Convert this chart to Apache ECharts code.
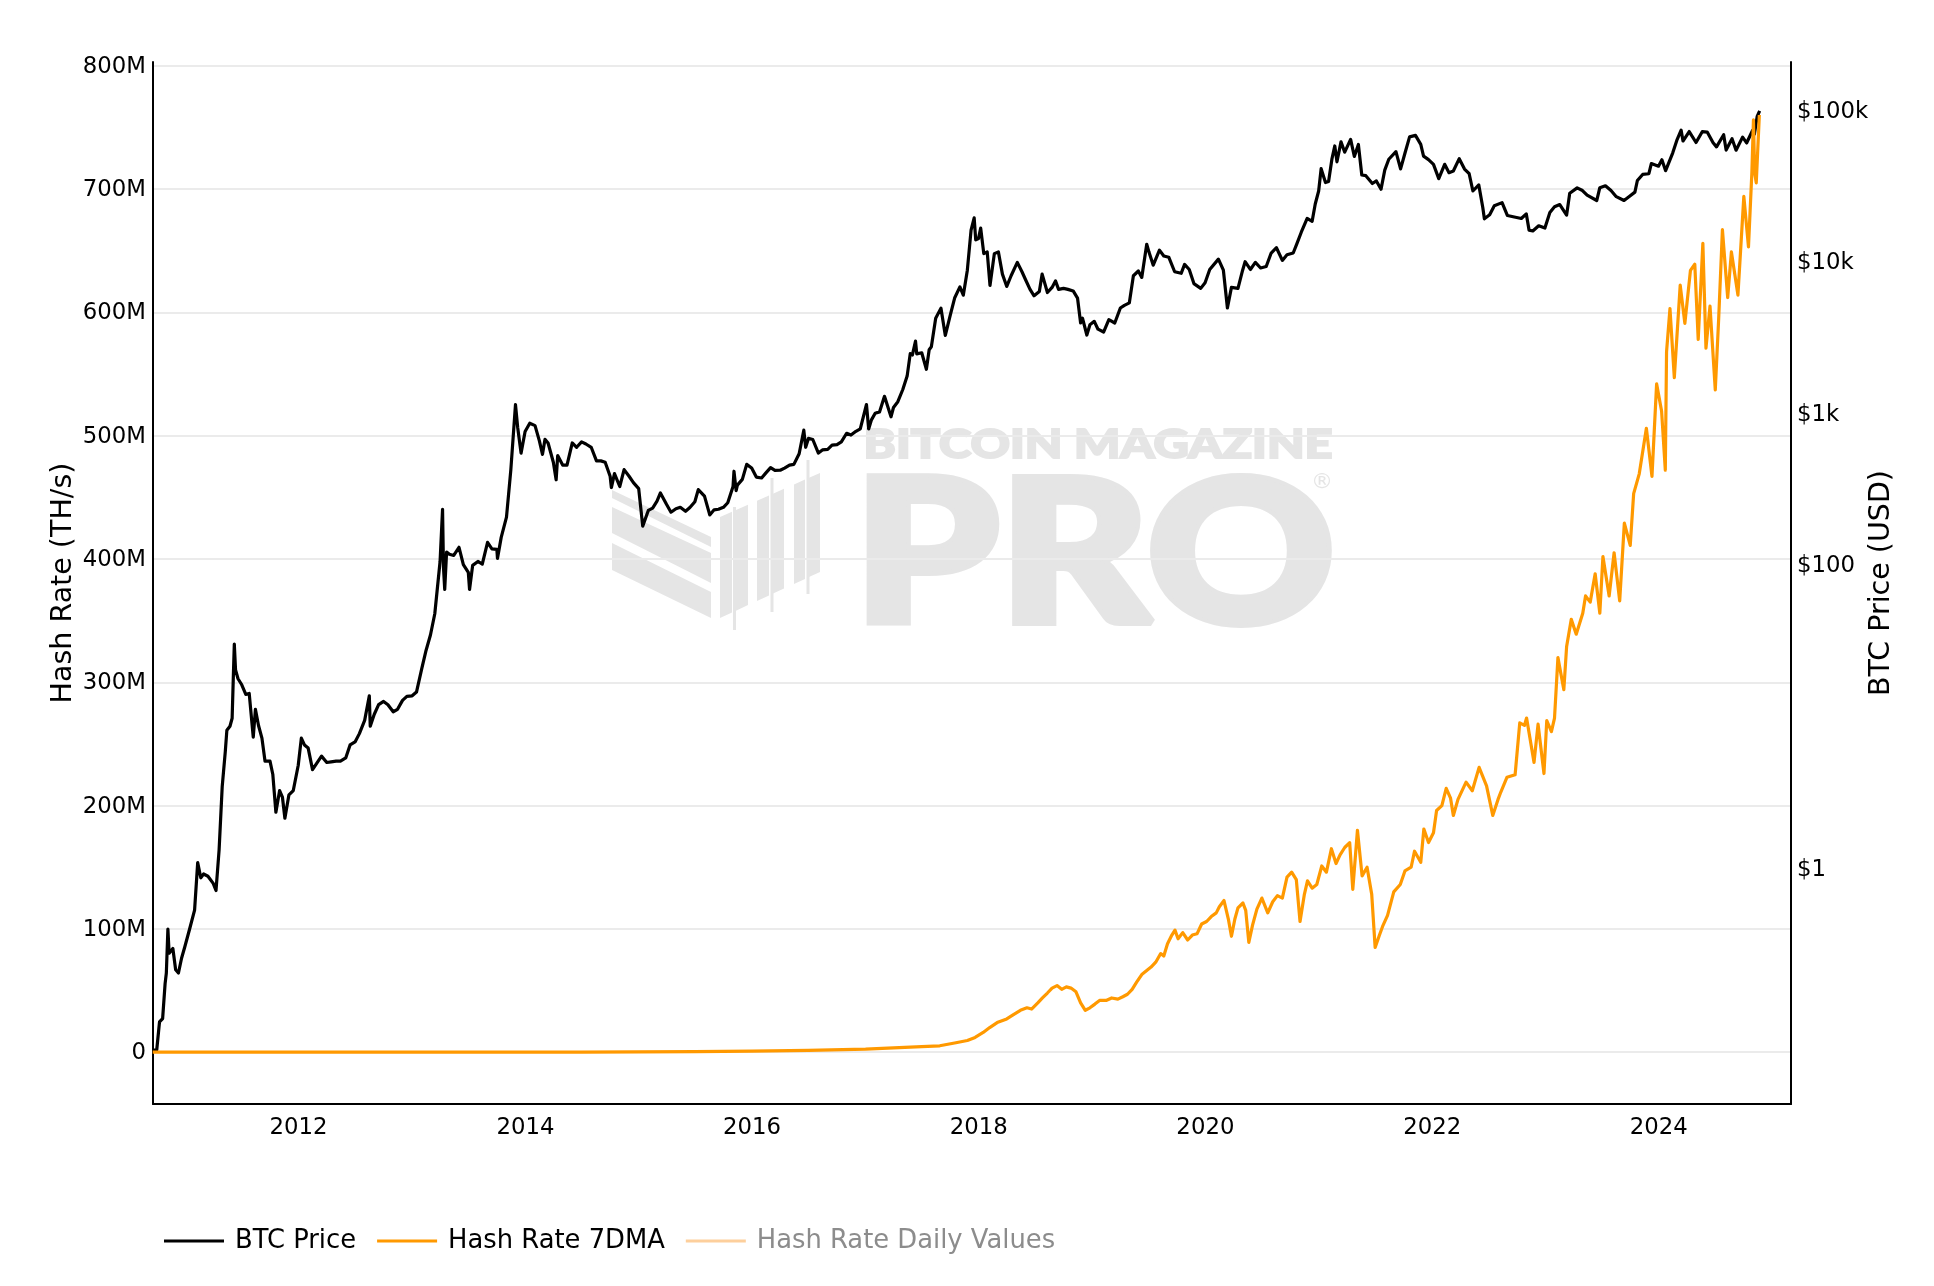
<!DOCTYPE html>
<html>
<head>
<meta charset="utf-8">
<title>Hash Rate vs BTC Price</title>
<script src="https://cdn.jsdelivr.net/npm/echarts@6/dist/echarts.min.js"></script>
<style>
html, body { margin: 0; padding: 0; background: #fff; }
#chart { width: 1934px; height: 1286px; }
</style>
</head>
<body>
<div id="chart"></div>
<script>
// BTC price (USD)
var priceDates = [
  '2010-09-18','2010-10-01','2010-10-10','2010-10-20','2010-10-28','2010-11-01','2010-11-06','2010-11-10','2010-11-15','2010-11-22','2010-12-01','2010-12-10','2010-12-20','2010-12-31',
  '2011-01-15','2011-01-31','2011-02-10','2011-02-20','2011-03-01','2011-03-15','2011-04-01','2011-04-10','2011-04-20','2011-04-30','2011-05-10','2011-05-15','2011-05-25','2011-06-01','2011-06-05','2011-06-08','2011-06-12','2011-06-20','2011-07-01','2011-07-15','2011-07-26','2011-08-08','2011-08-15','2011-08-25','2011-09-05','2011-09-15','2011-10-01','2011-10-10','2011-10-20','2011-11-01','2011-11-10','2011-11-18','2011-12-01','2011-12-15','2011-12-31',
  '2012-01-10','2012-01-20','2012-02-01','2012-02-15','2012-03-01','2012-03-15','2012-04-01','2012-04-15','2012-05-01','2012-05-15','2012-06-01','2012-06-15','2012-07-01','2012-07-15','2012-08-01','2012-08-16','2012-08-19','2012-09-01','2012-09-15','2012-10-01','2012-10-15','2012-11-01','2012-11-15','2012-12-01','2012-12-15',
  '2013-01-01','2013-01-15','2013-02-01','2013-02-15','2013-03-01','2013-03-15','2013-04-01','2013-04-09','2013-04-12','2013-04-16','2013-04-22','2013-05-01','2013-05-15','2013-06-01','2013-06-15','2013-07-01','2013-07-05','2013-07-15','2013-08-01','2013-08-15','2013-09-01','2013-09-15','2013-10-01','2013-10-03','2013-10-15','2013-11-01','2013-11-15','2013-11-30','2013-12-07','2013-12-18','2013-12-31',
  '2014-01-15','2014-02-01','2014-02-15','2014-02-25','2014-03-05','2014-03-15','2014-04-01','2014-04-10','2014-04-15','2014-05-01','2014-05-15','2014-06-01','2014-06-15','2014-07-01','2014-07-15','2014-08-01','2014-08-18','2014-09-01','2014-09-15','2014-10-01','2014-10-05','2014-10-15','2014-11-01','2014-11-15','2014-12-01','2014-12-15',
  '2015-01-01','2015-01-14','2015-02-01','2015-02-15','2015-03-01','2015-03-12','2015-04-01','2015-04-15','2015-05-01','2015-05-15','2015-06-01','2015-06-15','2015-07-01','2015-07-12','2015-08-01','2015-08-18','2015-09-01','2015-09-15','2015-10-01','2015-10-15','2015-11-01','2015-11-04','2015-11-11','2015-11-15','2015-12-01','2015-12-15','2015-12-31',
  '2016-01-15','2016-02-01','2016-02-15','2016-03-01','2016-03-15','2016-04-01','2016-04-15','2016-05-01','2016-05-15','2016-06-01','2016-06-16','2016-06-22','2016-07-01','2016-07-15','2016-08-02','2016-08-15','2016-09-01','2016-09-15','2016-10-01','2016-10-15','2016-11-01','2016-11-15','2016-12-01','2016-12-15',
  '2017-01-04','2017-01-11','2017-01-20','2017-02-01','2017-02-15','2017-03-03','2017-03-24','2017-04-01','2017-04-15','2017-05-01','2017-05-15','2017-05-25','2017-06-01','2017-06-11','2017-06-15','2017-07-01','2017-07-16','2017-07-25','2017-08-01','2017-08-15','2017-09-01','2017-09-15','2017-10-01','2017-10-15','2017-11-01','2017-11-12','2017-11-25','2017-12-07','2017-12-17','2017-12-22','2017-12-31',
  '2018-01-07','2018-01-17','2018-01-28','2018-02-06','2018-02-20','2018-03-05','2018-03-18','2018-04-01','2018-04-15','2018-05-05','2018-05-20','2018-06-01','2018-06-15','2018-06-28','2018-07-15','2018-07-24','2018-08-10','2018-08-25','2018-09-05','2018-09-15','2018-10-01','2018-10-15','2018-11-01','2018-11-15','2018-11-25','2018-12-01','2018-12-15','2018-12-25',
  '2019-01-08','2019-01-20','2019-02-07','2019-02-24','2019-03-15','2019-04-02','2019-04-15','2019-05-01','2019-05-14','2019-05-30','2019-06-10','2019-06-26','2019-07-03','2019-07-17','2019-08-06','2019-08-20','2019-09-05','2019-09-24','2019-10-15','2019-10-26','2019-11-10','2019-11-25','2019-12-17','2019-12-31',
  '2020-01-15','2020-02-12','2020-02-28','2020-03-12','2020-03-25','2020-04-15','2020-04-30','2020-05-08','2020-05-25','2020-06-10','2020-06-27','2020-07-15','2020-07-31','2020-08-17','2020-09-05','2020-09-20','2020-10-10','2020-10-21','2020-11-05','2020-11-24','2020-12-10','2020-12-20','2020-12-31',
  '2021-01-08','2021-01-22','2021-02-01','2021-02-12','2021-02-21','2021-02-28','2021-03-13','2021-03-25','2021-04-13','2021-04-25','2021-05-08','2021-05-19','2021-06-01','2021-06-22','2021-07-05','2021-07-20','2021-08-01','2021-08-14','2021-09-06','2021-09-21','2021-10-05','2021-10-20','2021-11-08','2021-11-25','2021-12-04','2021-12-20',
  '2022-01-05','2022-01-22','2022-02-10','2022-02-24','2022-03-10','2022-03-29','2022-04-15','2022-04-30','2022-05-12','2022-05-31','2022-06-13','2022-06-18','2022-07-05','2022-07-20','2022-08-14','2022-08-31','2022-09-15','2022-09-30','2022-10-15','2022-10-31','2022-11-09','2022-11-21','2022-12-10','2022-12-30',
  '2023-01-15','2023-01-30','2023-02-16','2023-03-10','2023-03-20','2023-04-13','2023-04-30','2023-05-15','2023-06-15','2023-06-25','2023-07-13','2023-07-31','2023-08-17','2023-09-11','2023-09-30','2023-10-16','2023-10-24','2023-11-10','2023-11-30','2023-12-08','2023-12-31',
  '2024-01-11','2024-01-23','2024-02-15','2024-02-28','2024-03-13','2024-03-19','2024-04-08','2024-04-30','2024-05-20','2024-06-05','2024-06-24','2024-07-05','2024-07-28','2024-08-05','2024-08-24','2024-09-06','2024-09-27','2024-10-10','2024-10-29','2024-11-04','2024-11-13','2024-11-21'
];
var priceValues = [
  0.062,0.062,0.095,0.10,0.17,0.20,0.39,0.27,0.27,0.29,0.21,0.20,0.25,0.30,
  0.39,0.52,1.07,0.85,0.90,0.87,0.78,0.70,1.30,3.4,5.8,8.0,8.5,9.6,18.5,29.6,20,17.5,16.1,13.8,14,7.2,11,8.6,7.1,5.0,5.0,4.1,2.3,3.2,2.9,2.1,3.0,3.2,4.7,
  7.1,6.4,6.1,4.4,4.9,5.4,4.9,4.95,5.0,5.0,5.25,6.4,6.7,7.6,9.3,13.5,8.5,10.2,11.8,12.4,11.8,10.6,11.0,12.6,13.4,
  13.5,14.3,20.4,27,34,47,104,230,95,68,120,116,114,129,99,88,68,98,104,100,139,126,125,109,150,204,418,1127,800,540,750,
  850,820,650,530,665,630,470,360,520,450,450,630,590,640,620,590,480,480,470,380,320,395,325,420,380,345,
  315,178,226,234,260,295,247,220,232,237,223,236,258,310,281,211,228,230,237,254,325,410,305,332,362,455,430,
  375,370,400,433,415,416,430,450,455,535,765,590,675,664,540,567,572,609,614,640,730,710,752,780,
  1130,780,895,990,1010,1280,937,1080,1180,1420,1740,2450,2400,2960,2440,2480,1930,2600,2720,4200,4890,3230,4400,5700,6750,5950,8700,16000,19300,13800,14100,
  16500,11200,11500,6900,11200,11500,8200,6800,8000,9800,8500,7500,6500,5900,6300,8200,6200,6700,7400,6500,6600,6500,6350,5700,3900,4200,3250,3800,
  4000,3550,3400,4100,3900,4900,5100,5300,8000,8600,7800,12900,11500,9400,11800,10800,10600,8500,8300,9500,8800,7100,6600,7200,
  8800,10300,8700,4900,6700,6600,8700,9900,8800,9800,9000,9200,11300,12250,10100,11000,11300,12900,15500,19100,18300,23800,29000,
  40700,33000,33500,47500,57500,45200,61200,52300,63500,49000,58800,37000,36600,32500,33800,29800,39800,47000,52700,40600,51500,66000,67500,58900,49300,46700,
  43500,35000,43500,38300,39300,47400,40500,37700,29000,31800,22500,19000,20200,23200,24300,20000,19700,19400,19100,20500,16000,15800,17100,16500,
  20900,22800,23600,20100,28000,30400,29200,27200,25100,30500,31400,29200,26600,25100,26900,28500,34000,37300,37700,44000,42300,
  46600,39500,51800,62500,73100,62000,71600,60600,71400,71000,60300,56700,68200,54000,64200,53900,65800,60200,72700,68800,90000,98000
];

// Hash rate 7DMA, in millions of TH/s
var hashDates = [
  '2010-09-18','2011-06-01','2012-06-01','2013-06-01','2014-01-01','2014-07-01','2015-01-01','2015-07-01','2016-01-01','2016-07-01',
  '2017-01-01','2017-04-01','2017-07-01','2017-08-28','2017-10-15','2017-11-25','2017-12-20',
  '2018-01-15','2018-02-05','2018-03-01','2018-04-01','2018-04-20','2018-05-15','2018-06-05','2018-06-20','2018-07-10','2018-07-25','2018-08-10','2018-08-25','2018-09-10','2018-09-25','2018-10-10','2018-10-25','2018-11-10','2018-11-25','2018-12-10','2018-12-25',
  '2019-01-10','2019-01-25','2019-02-15','2019-03-05','2019-03-25','2019-04-10','2019-04-25','2019-05-10','2019-05-25','2019-06-10','2019-06-25','2019-07-10','2019-07-25','2019-08-10','2019-08-20','2019-09-01','2019-09-15','2019-09-25','2019-10-05','2019-10-20','2019-11-05','2019-11-20','2019-12-05','2019-12-20',
  '2020-01-05','2020-01-20','2020-02-05','2020-02-15','2020-03-01','2020-03-15','2020-03-25','2020-04-05','2020-04-15','2020-05-01','2020-05-10','2020-05-20','2020-06-01','2020-06-15','2020-07-01','2020-07-20','2020-08-05','2020-08-20','2020-09-05','2020-09-20','2020-10-05','2020-10-20','2020-11-01','2020-11-15','2020-11-25','2020-12-10','2020-12-25',
  '2021-01-10','2021-01-25','2021-02-10','2021-02-25','2021-03-10','2021-03-25','2021-04-10','2021-04-20','2021-05-05','2021-05-20','2021-06-05','2021-06-20','2021-07-01','2021-07-15','2021-07-25','2021-08-10','2021-08-30','2021-09-20','2021-10-05','2021-10-25','2021-11-05','2021-11-25','2021-12-05','2021-12-20',
  '2022-01-05','2022-01-15','2022-02-01','2022-02-15','2022-03-01','2022-03-10','2022-03-25','2022-04-20','2022-05-10','2022-06-01','2022-06-25','2022-07-15','2022-08-01','2022-08-10','2022-08-30','2022-09-25','2022-10-10','2022-10-25','2022-11-01','2022-11-25','2022-12-08','2022-12-27',
  '2023-01-05','2023-01-20','2023-01-30','2023-02-10','2023-03-01','2023-03-10','2023-03-25','2023-04-10','2023-05-01','2023-05-10','2023-05-25','2023-06-10','2023-06-25','2023-07-05','2023-07-25','2023-08-10','2023-08-28','2023-09-12','2023-10-01','2023-10-12','2023-10-30','2023-11-22','2023-12-10','2023-12-25',
  '2024-01-10','2024-01-22','2024-01-26','2024-02-06','2024-02-20','2024-03-10','2024-03-25','2024-04-12','2024-04-26','2024-05-07','2024-05-22','2024-06-01','2024-06-14','2024-07-01','2024-07-12','2024-07-24','2024-08-10','2024-08-22','2024-09-12','2024-10-01','2024-10-16','2024-10-27','2024-11-01','2024-11-05','2024-11-10','2024-11-20'
];
var hashValues = [
  0,0.00001,0.00002,0.0001,0.01,0.12,0.3,0.4,0.8,1.5,
  2.5,3.5,4.5,5.2,7.5,9.5,12,
  16,20,24,27,30,34,36,35,40,44,48,52,54,51,53,52,49,40,34,36,
  39,42,42,44,43,45,47,51,57,63,66,69,73,80,78,88,95,99,92,97,91,95,96,104,
  106,110,113,118,123,108,94,108,117,121,115,89,103,116,125,113,122,127,125,142,146,140,106,128,139,133,136,
  151,146,165,153,160,166,170,132,180,143,150,128,85,95,102,111,130,136,147,150,163,154,181,170,
  178,196,200,214,206,192,205,219,212,231,216,192,205,211,223,225,267,265,271,235,266,226,
  269,260,271,320,294,329,351,339,356,370,365,388,356,402,370,405,366,429,411,453,469,506,467,542,
  520,472,568,603,547,622,591,634,639,578,656,571,605,537,595,667,612,649,614,694,653,714,756,713,705,760
];

var hashTickValues = [0, 100, 200, 300, 400, 500, 600, 700, 800];
var priceTickValues = [1, 100, 1000, 10000, 100000];
var priceTickLabels = ['$1', '$100', '$1k', '$10k', '$100k'];
var yearTicks = [2012, 2014, 2016, 2018, 2020, 2022, 2024];

var FONT = 'DejaVu Sans';
var MARK = '#e5e5e5';

function toTime(d) {
  var p = d.split('-');
  return new Date(+p[0], +p[1] - 1, +p[2]).getTime();
}

// watermark text stretched to a pixel box [left, capTop, right, baseline];
// grow = extra stroke to make the letters heavier
function fitText(str, box, grow) {
  var b = [box[0] + grow / 2, box[1] + grow / 2, box[2] - grow / 2, box[3] - grow / 2];
  var ctx = document.createElement('canvas').getContext('2d');
  ctx.font = '900 100px Lato';
  ctx.textBaseline = 'middle';
  var m = ctx.measureText(str);
  var k = (b[3] - b[1]) / (m.actualBoundingBoxAscent + m.actualBoundingBoxDescent);
  var sx = (b[2] - b[0]) / ((m.actualBoundingBoxLeft + m.actualBoundingBoxRight) * k);
  return {
    type: 'text', z: -10, silent: true,
    x: b[0] + m.actualBoundingBoxLeft * k * sx,
    y: b[1] + m.actualBoundingBoxAscent * k,
    scaleX: sx,
    style: {
      text: str, font: '900 ' + (100 * k) + 'px Lato', fill: MARK,
      stroke: MARK, lineWidth: grow, lineJoin: 'miter',
      align: 'left', verticalAlign: 'middle', textAlign: 'left', textVerticalAlign: 'middle'
    }
  };
}

function logoParts() {
  var parts = [];
  var bands = [[490, 498, 537, 547], [507, 533, 553, 583], [543, 570, 592, 618]];
  bands.forEach(function (b) {
    parts.push({ type: 'polygon', z: -10, silent: true, shape: { points: [[612, b[0]], [711, b[2]], [711, b[3]], [612, b[1]]] }, style: { fill: MARK } });
  });
  var bars = [[720, 732], [736, 748], [757, 769], [773, 784], [794, 805], [809, 820]];
  var top = function (x) { return 517 - (x - 720) * 0.44; };
  var bot = function (x) { return 618 - (x - 720) * 0.46; };
  bars.forEach(function (b) {
    parts.push({ type: 'polygon', z: -10, silent: true, shape: { points: [[b[0], top(b[0])], [b[1], top(b[1])], [b[1], bot(b[1])], [b[0], bot(b[0])]] }, style: { fill: MARK } });
  });
  [[733, 507, 630], [770.5, 478, 612], [806.5, 460, 594]].forEach(function (s) {
    parts.push({ type: 'rect', z: -10, silent: true, shape: { x: s[0], y: s[1], width: 3, height: s[2] - s[1] }, style: { fill: MARK } });
  });
  return parts;
}

var chart = echarts.init(document.getElementById('chart'));

var option = {
  animation: false,
  backgroundColor: '#fff',
  textStyle: { fontFamily: FONT },
  graphic: [
    fitText('BITCOIN MAGAZINE', [866, 427, 1332, 459], 2),
    fitText('PRO', [866, 473, 1332, 628], 8),
    { type: 'text', z: -10, silent: true, x: 1322, y: 482, style: { text: '\u00ae', font: '22px ' + FONT, fill: MARK, align: 'center', verticalAlign: 'middle' } }
  ].concat(logoParts()),
  grid: { left: 153, right: 143, top: 62, bottom: 182 },
  legend: {
    left: 164,
    top: 1228,
    padding: 0,
    icon: 'rect',
    itemWidth: 60,
    itemHeight: 3,
    itemGap: 21,
    itemStyle: { borderWidth: 0 },
    textStyle: { fontFamily: FONT, fontSize: 25.8, color: '#000', padding: [0, 0, 0, 6] },
    data: [
      'BTC Price',
      'Hash Rate 7DMA',
      { name: 'Hash Rate Daily Values', textStyle: { color: '#8c8c8c' } }
    ]
  },
  xAxis: {
    type: 'value',
    min: toTime('2010-09-19'),
    max: toTime('2025-03-02'),
    axisLine: { onZero: false, lineStyle: { color: '#000', width: 2 } },
    axisTick: { show: false },
    splitLine: { show: false },
    axisLabel: {
      customValues: yearTicks.map(function (y) { return new Date(y, 0, 1).getTime(); }),
      formatter: function (v) { return String(new Date(v).getFullYear()); },
      fontFamily: FONT, fontSize: 22.8, color: '#000', margin: 13
    }
  },
  yAxis: [
    {
      type: 'value',
      name: 'Hash Rate (TH/s)',
      nameLocation: 'middle',
      nameRotate: 90,
      nameGap: 75,
      nameMoveOverlap: false,
      nameTextStyle: { fontFamily: FONT, fontSize: 28.5, color: '#000' },
      min: -42,
      max: 803,
      minInterval: 100,
      maxInterval: 100,
      axisLine: { show: true, onZero: false, lineStyle: { color: '#000', width: 2 } },
      axisTick: { show: false },
      splitLine: { show: true, showMinLine: false, showMaxLine: false, lineStyle: { color: '#ebebeb', width: 2 } },
      axisLabel: {
        customValues: hashTickValues,
        formatter: function (v) { return v === 0 ? '0' : v + 'M'; },
        fontFamily: FONT, fontSize: 22.8, color: '#000', margin: 7,
        verticalAlign: 'top', lineHeight: 2.4
      }
    },
    {
      type: 'log',
      logBase: 10,
      name: 'BTC Price (USD)',
      nameLocation: 'middle',
      nameRotate: 90,
      nameGap: 76,
      nameMoveOverlap: false,
      nameTextStyle: { fontFamily: FONT, fontSize: 28.5, color: '#000' },
      min: 0.0273,
      max: 206000,
      position: 'right',
      axisLine: { show: true, onZero: false, lineStyle: { color: '#000', width: 2 } },
      axisTick: { show: false },
      splitLine: { show: false },
      axisLabel: {
        customValues: priceTickValues,
        formatter: function (v) {
          var i = priceTickValues.findIndex(function (t) { return Math.abs(Math.log10(v) - Math.log10(t)) < 1e-6; });
          return i < 0 ? '' : priceTickLabels[i];
        },
        fontFamily: FONT, fontSize: 22.8, color: '#000', margin: 6,
        verticalAlign: 'top', lineHeight: 5
      }
    }
  ],
  series: [
    {
      name: 'BTC Price',
      type: 'line',
      yAxisIndex: 1,
      showSymbol: false,
      symbol: 'none',
      color: '#000',
      lineStyle: { color: '#000', width: 3.2, join: 'round' },
      data: priceDates.map(function (d, i) { return [toTime(d), priceValues[i]]; })
    },
    {
      name: 'Hash Rate 7DMA',
      type: 'line',
      yAxisIndex: 0,
      showSymbol: false,
      symbol: 'none',
      color: '#ff9900',
      lineStyle: { color: '#ff9900', width: 3.2, join: 'round' },
      data: hashDates.map(function (d, i) { return [toTime(d), hashValues[i]]; })
    },
    {
      name: 'Hash Rate Daily Values',
      type: 'line',
      yAxisIndex: 0,
      showSymbol: false,
      symbol: 'none',
      color: '#fdcf9c',
      lineStyle: { color: '#fdcf9c', width: 2 },
      data: []
    }
  ]
};

chart.setOption(option);
</script>
</body>
</html>
